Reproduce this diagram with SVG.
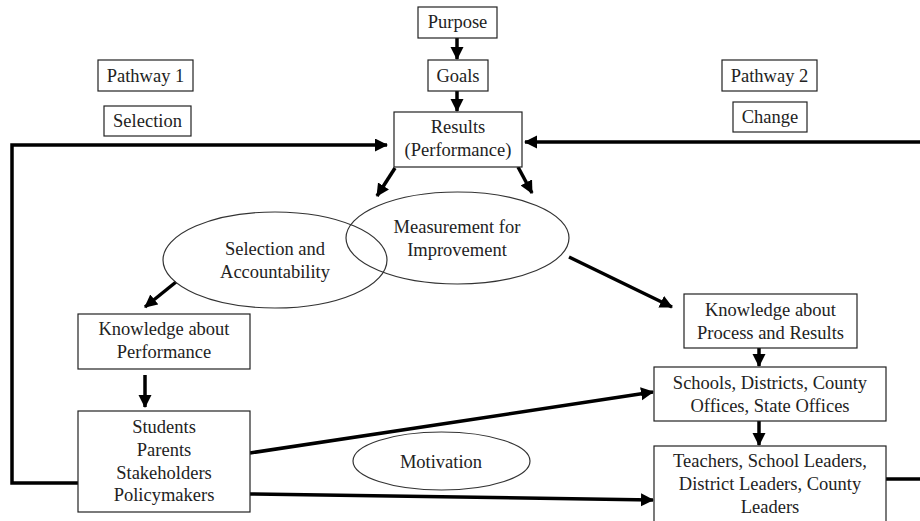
<svg xmlns="http://www.w3.org/2000/svg" width="920" height="521" viewBox="0 0 920 521" font-family="'Liberation Serif', 'Times New Roman', serif">
<defs>
<style>
.box{fill:#fff;stroke:#222;stroke-width:1.2}
.ell{fill:none;stroke:#333;stroke-width:1.2}
text{font-family:'Liberation Serif','Times New Roman',serif;font-size:18.5px;fill:#222;text-anchor:middle}
.ln{fill:none;stroke:#000;stroke-width:3.5}
</style>
<marker id="ah" markerUnits="userSpaceOnUse" markerWidth="14" markerHeight="14" refX="12" refY="6.5" orient="auto">
<path d="M0,0 L13,6.5 L0,13 z" fill="#000"/>
</marker>
</defs>
<rect width="920" height="521" fill="#fff"/>
<g id="connectors">
<line class="ln" x1="457" y1="38" x2="457" y2="59" marker-end="url(#ah)"/>
<line class="ln" x1="457" y1="91" x2="457" y2="111" marker-end="url(#ah)"/>
<polyline class="ln" points="78,483 12,483 12,145 387,145" marker-end="url(#ah)"/>
<line class="ln" x1="920" y1="142" x2="525" y2="142" marker-end="url(#ah)"/>
<line class="ln" x1="395" y1="168" x2="377" y2="196" marker-end="url(#ah)"/>
<line class="ln" x1="518" y1="167" x2="532" y2="193" marker-end="url(#ah)"/>
<line class="ln" x1="176" y1="282" x2="145" y2="307" marker-end="url(#ah)"/>
<line class="ln" x1="569" y1="257" x2="672" y2="307" marker-end="url(#ah)"/>
<line class="ln" x1="145" y1="375" x2="145" y2="407" marker-end="url(#ah)"/>
<line class="ln" x1="759" y1="348" x2="759" y2="366" marker-end="url(#ah)"/>
<line class="ln" x1="759" y1="421" x2="759" y2="445" marker-end="url(#ah)"/>
<line class="ln" x1="250" y1="453" x2="653" y2="392" marker-end="url(#ah)"/>
<line class="ln" x1="250" y1="494" x2="653" y2="500" marker-end="url(#ah)"/>
<line class="ln" x1="886" y1="479" x2="920" y2="479"/>
</g>
<g id="purpose"><rect class="box" x="418" y="7" width="79" height="31"/><text x="457.5" y="28">Purpose</text></g>
<g id="goals"><rect class="box" x="428" y="60" width="60" height="31"/><text x="458" y="82">Goals</text></g>
<g id="results"><rect class="box" x="394" y="112" width="128" height="55"/><text x="458" y="133">Results</text><text x="458" y="156">(Performance)</text></g>
<g id="pathway1"><rect class="box" x="98" y="60" width="95" height="31"/><text x="145.5" y="82">Pathway 1</text></g>
<g id="selection"><rect class="box" x="104" y="106" width="87" height="30"/><text x="147.5" y="127">Selection</text></g>
<g id="pathway2"><rect class="box" x="722" y="60" width="95" height="31"/><text x="769.5" y="82">Pathway 2</text></g>
<g id="change"><rect class="box" x="733" y="102" width="74" height="30"/><text x="770" y="123">Change</text></g>
<g id="selection-accountability"><ellipse class="ell" cx="275" cy="260" rx="112" ry="48"/><text x="275" y="255">Selection and</text><text x="275" y="278">Accountability</text></g>
<g id="measurement"><ellipse class="ell" cx="457.5" cy="238" rx="111.5" ry="46"/><text x="457" y="233">Measurement for</text><text x="457" y="256">Improvement</text></g>
<g id="knowledge-performance"><rect class="box" x="78" y="314" width="172" height="55"/><text x="164" y="335">Knowledge about</text><text x="164" y="358">Performance</text></g>
<g id="students"><rect class="box" x="78" y="411" width="172" height="101"/><text x="164" y="433">Students</text><text x="164" y="456">Parents</text><text x="164" y="479">Stakeholders</text><text x="164" y="501">Policymakers</text></g>
<g id="motivation"><ellipse class="ell" cx="441.5" cy="461" rx="88.5" ry="29"/><text x="441" y="468">Motivation</text></g>
<g id="knowledge-process"><rect class="box" x="684" y="294" width="173" height="54"/><text x="770.5" y="316">Knowledge about</text><text x="770.5" y="339">Process and Results</text></g>
<g id="schools"><rect class="box" x="654" y="367" width="232" height="54"/><text x="770" y="389">Schools, Districts, County</text><text x="770" y="412">Offices, State Offices</text></g>
<g id="teachers"><rect class="box" x="654" y="446" width="232" height="90"/><text x="770" y="467">Teachers, School Leaders,</text><text x="770" y="490">District Leaders, County</text><text x="770" y="513">Leaders</text></g>
</svg>
